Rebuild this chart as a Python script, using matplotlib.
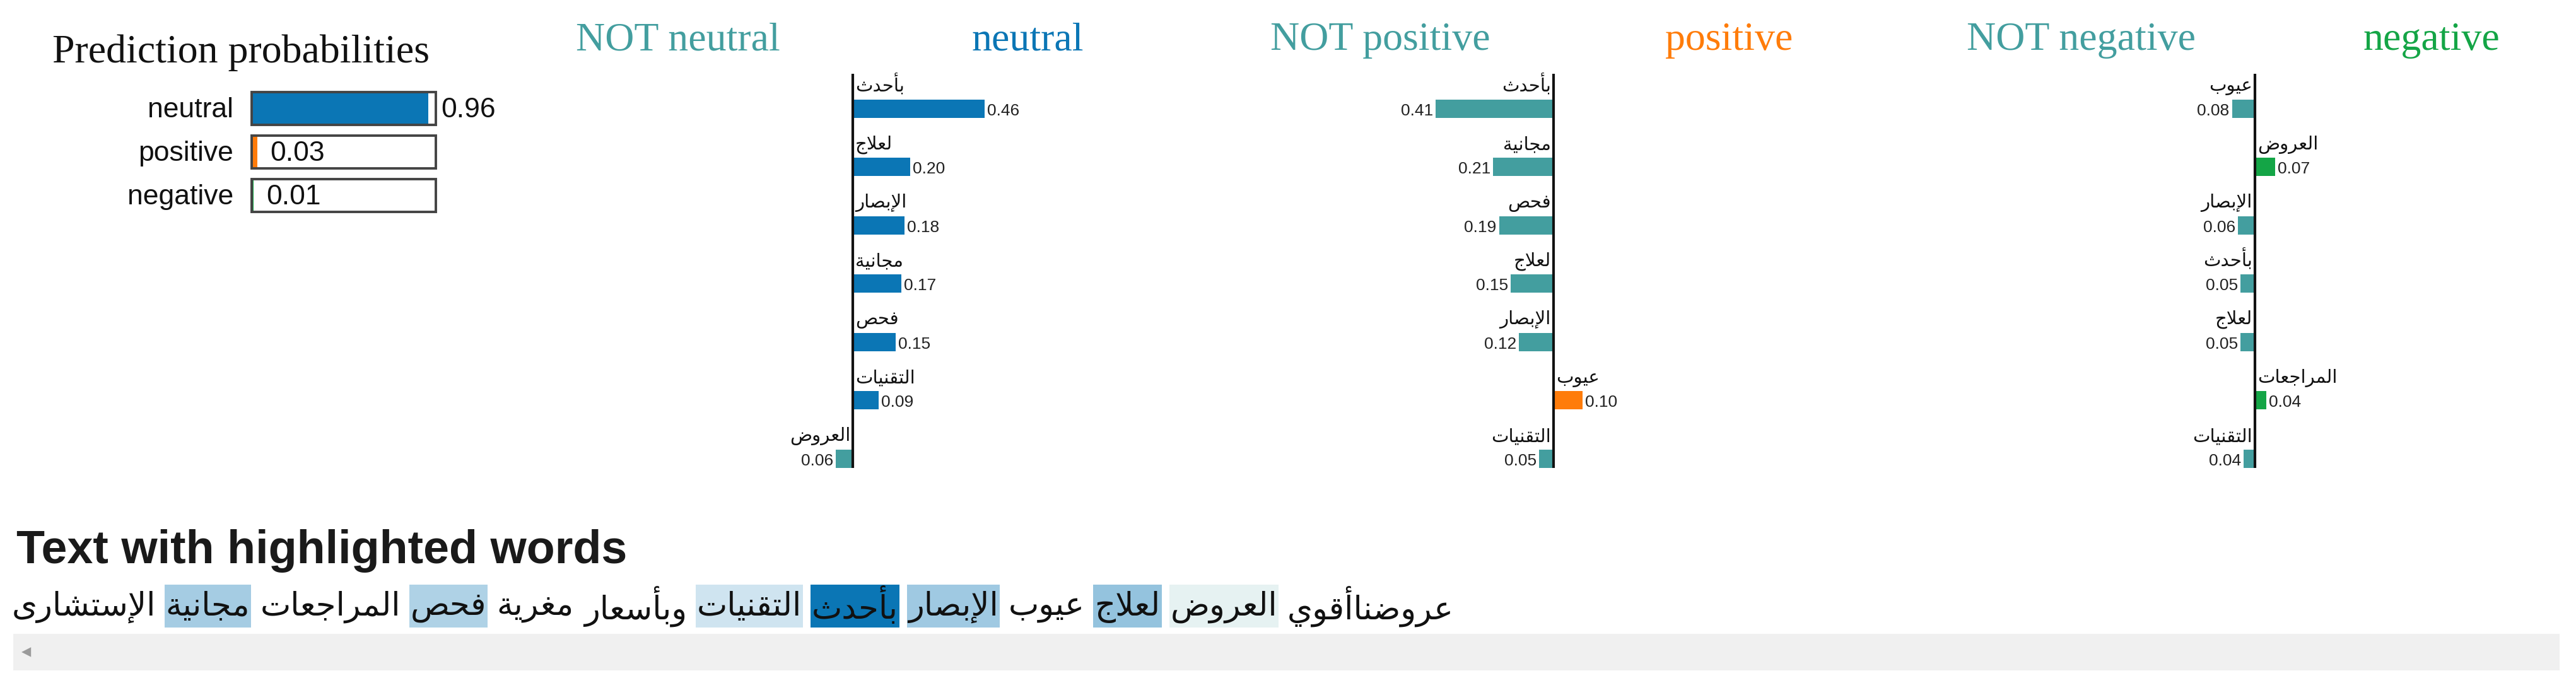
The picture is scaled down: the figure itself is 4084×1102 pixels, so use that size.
import matplotlib
matplotlib.use("Agg")
import matplotlib.pyplot as plt
from matplotlib.patches import Rectangle

# ---------------- data ----------------
classes = ["neutral", "positive", "negative"]
probas = [0.96, 0.03, 0.01]

neutral_words = ["بأحدث", "لعلاج", "الإبصار", "مجانية", "فحص", "التقنيات", "العروض"]
neutral_weights = [0.46, 0.20, 0.18, 0.17, 0.15, 0.09, -0.06]

positive_words = ["بأحدث", "مجانية", "فحص", "لعلاج", "الإبصار", "عيوب", "التقنيات"]
positive_weights = [-0.41, -0.21, -0.19, -0.15, -0.12, 0.10, -0.05]

negative_words = ["عيوب", "العروض", "الإبصار", "بأحدث", "لعلاج", "المراجعات", "التقنيات"]
negative_weights = [-0.08, 0.07, -0.06, -0.05, -0.05, 0.04, -0.04]

# sentence in logical (right-to-left reading) order
text_words = ["عروضناأقوي", "العروض", "لعلاج", "عيوب", "الإبصار", "بأحدث", "التقنيات",
              "وبأسعار", "مغرية", "فحص", "المراجعات", "مجانية", "الإستشارى"]

# ---------------- colours ----------------
C_BLUE = "#0b76b5"
C_ORANGE = "#ff7c0a"
C_GREEN = "#14a546"
C_TEAL = "#439e9f"
class_colors = [C_BLUE, C_ORANGE, C_GREEN]

# ---------------- Arabic shaping (presentation forms, visual order) ----------------
DUAL = {0x0626: 0xFE89, 0x0628: 0xFE8F, 0x062A: 0xFE95, 0x062B: 0xFE99, 0x062C: 0xFE9D,
        0x062D: 0xFEA1, 0x062E: 0xFEA5, 0x0633: 0xFEB1, 0x0634: 0xFEB5, 0x0635: 0xFEB9,
        0x0636: 0xFEBD, 0x0637: 0xFEC1, 0x0638: 0xFEC5, 0x0639: 0xFEC9, 0x063A: 0xFECD,
        0x0641: 0xFED1, 0x0642: 0xFED5, 0x0643: 0xFED9, 0x0644: 0xFEDD, 0x0645: 0xFEE1,
        0x0646: 0xFEE5, 0x0647: 0xFEE9, 0x064A: 0xFEF1}
RIGHT = {0x0622: 0xFE81, 0x0623: 0xFE83, 0x0624: 0xFE85, 0x0625: 0xFE87, 0x0627: 0xFE8D,
         0x0629: 0xFE93, 0x062F: 0xFEA9, 0x0630: 0xFEAB, 0x0631: 0xFEAD, 0x0632: 0xFEAF,
         0x0648: 0xFEED, 0x0649: 0xFEEF}
LAMALEF = {0x0622: 0xFEF5, 0x0623: 0xFEF7, 0x0625: 0xFEF9, 0x0627: 0xFEFB}


def shape(word):
    cps = [ord(c) for c in word]
    units = []
    i = 0
    while i < len(cps):
        c = cps[i]
        if c == 0x0644 and i + 1 < len(cps) and cps[i + 1] in LAMALEF:
            units.append(("R", LAMALEF[cps[i + 1]]))
            i += 2
            continue
        if c in DUAL:
            units.append(("D", DUAL[c]))
        elif c in RIGHT:
            units.append(("R", RIGHT[c]))
        else:
            units.append(("N", c))
        i += 1
    out = []
    for j, (k, b) in enumerate(units):
        if k == "N":
            out.append(chr(b))
            continue
        prev = j > 0 and units[j - 1][0] == "D"
        nxt = k == "D" and j + 1 < len(units) and units[j + 1][0] in "DR"
        off = 3 if (prev and nxt) else 1 if prev else 2 if nxt else 0
        out.append(chr(b + off))
    return "".join(reversed(out))


# ---------------- figure ----------------
W, H = 4084, 1102
fig = plt.figure(figsize=(W / 100, H / 100), dpi=100)
fig.patch.set_facecolor("white")
bg = fig.add_axes([0, 0, 1, 1])
bg.set_xlim(0, W)
bg.set_ylim(H, 0)
bg.axis("off")
renderer = fig.canvas.get_renderer()


def px_axes(x0, y0, x1, y1):
    a = fig.add_axes([x0 / W, 1 - y1 / H, (x1 - x0) / W, (y1 - y0) / H])
    a.axis("off")
    return a


SERIF = "Liberation Serif"
SANS = "Liberation Sans"
ARAB = "DejaVu Sans"

# ---------------- prediction probabilities ----------------
bg.text(83, 84, "Prediction probabilities", family=SERIF, fontsize=46,
        va="center", ha="left", color="#111111")
pp = px_axes(399, 146, 691, 336)
sp = 69.0
pp.set_xlim(0, 1)
pp.set_ylim(2 + 26 / sp, -26 / sp)
bh = 52 / sp
ys = list(range(len(classes)))
pp.barh(ys, probas, height=bh, color=class_colors, align="center")
pp.barh(ys, [1.0] * len(classes), height=bh, fill=False, edgecolor="#444444",
        linewidth=2.8, align="center", clip_on=False)
for y, c, p in zip(ys, classes, probas):
    pp.text(-0.1, y + 0.03, c, ha="right", va="center", family=SANS, fontsize=32,
            color="#111111")
    pp.text(p + 0.069, y + 0.03, f"{p:.2f}", ha="left", va="center", family=SANS,
            fontsize=32, color="#111111")

# ---------------- explanation charts ----------------
charts = [
    ("neutral", C_BLUE, neutral_words, neutral_weights, 913, 1718, 1352),
    ("positive", C_ORANGE, positive_words, positive_weights, 2014, 2842, 2463),
    ("negative", C_GREEN, negative_words, negative_weights, 3118, 3963, 3575),
]
scale = 455.0          # pixels per unit weight
c0, step = 172.0, 92.5  # first bar centre / bar spacing (px)
top_px, bot_px = 20, 790
for name, col, words, weights, L, R, AX in charts:
    ax = px_axes(L, top_px, R, bot_px)
    ax.set_xlim((L - AX) / scale, (R - AX) / scale)
    ax.set_ylim((bot_px - c0) / step, (top_px - c0) / step)
    fy = 1 - (64 - top_px) / (bot_px - top_px)
    ax.text(0, fy, "NOT " + name, transform=ax.transAxes, ha="left", va="center",
            family=SERIF, fontsize=46, color=C_TEAL)
    ax.text(1, fy, name, transform=ax.transAxes, ha="right", va="center",
            family=SERIF, fontsize=46, color=col)
    pos = list(range(len(words)))
    bcol = [col if w > 0 else C_TEAL for w in weights]
    h = 29 / step
    ax.barh(pos, weights, height=h, color=bcol, align="center")
    ax.plot([0, 0], [(117 - c0) / step, (742 - c0) / step], color="#111111",
            linewidth=3.0, solid_capstyle="butt")
    dx = 4 / scale
    for y, wd, w in zip(pos, words, weights):
        if w > 0:
            ax.text(dx, y - h / 2 - 0.07, shape(wd), ha="left", va="bottom",
                    family=ARAB, fontsize=21, color="#111111")
            ax.text(w + dx, y + 0.04, f"{abs(w):.2f}", ha="left", va="center",
                    family=SANS, fontsize=19, color="#222222")
        else:
            ax.text(-dx, y - h / 2 - 0.07, shape(wd), ha="right", va="bottom",
                    family=ARAB, fontsize=21, color="#111111")
            ax.text(w - dx, y + 0.04, f"{abs(w):.2f}", ha="right", va="center",
                    family=SANS, fontsize=19, color="#222222")

# ---------------- text with highlighted words ----------------
bg.text(26, 874, "Text with highlighted words", family=SANS, fontweight="bold",
        fontsize=53, ha="left", va="center", color="#1a1a1a")

nw = dict(zip(neutral_words, neutral_weights))
wmax = max(abs(v) for v in neutral_weights)
right_edge, left_edge = 2305.0, 19.0
gap = 16.0
box_top, box_bot = 927.0, 995.0
text_y = 962.0

def word_width(s, fs):
    t = bg.text(0, text_y, s, family=ARAB, fontsize=fs, ha="left", va="center")
    bb = t.get_window_extent(renderer)
    t.remove()
    return bb.width


fs0 = 36.0
shaped = [shape(w) for w in text_words]
tot = sum(word_width(s, fs0) for s in shaped) + gap * (len(shaped) - 1)
fs = fs0 * (right_edge - left_edge - gap * (len(shaped) - 1)) / (tot - gap * (len(shaped) - 1))

x = right_edge
for wd, s in zip(text_words, shaped):
    wpx = word_width(s, fs)
    if wd in nw:
        wt = nw[wd]
        c = C_BLUE if wt > 0 else C_TEAL
        bg.add_patch(Rectangle((x - wpx - 2, box_top), wpx + 4, box_bot - box_top,
                               facecolor=c, alpha=abs(wt) / wmax, edgecolor="none",
                               zorder=1))
    bg.text(x, text_y, s, family=ARAB, fontsize=fs, ha="right", va="center",
            color="#111111", zorder=2)
    x -= wpx + gap

# scroll bar
bg.add_patch(Rectangle((21, 1005), 4037, 58, facecolor="#f0f0f0", edgecolor="none"))
bg.text(42, 1034, "◂", family="DejaVu Sans", fontsize=22, color="#9a9a9a",
        ha="center", va="center")

fig.savefig("out.png", dpi=100, facecolor="white")
